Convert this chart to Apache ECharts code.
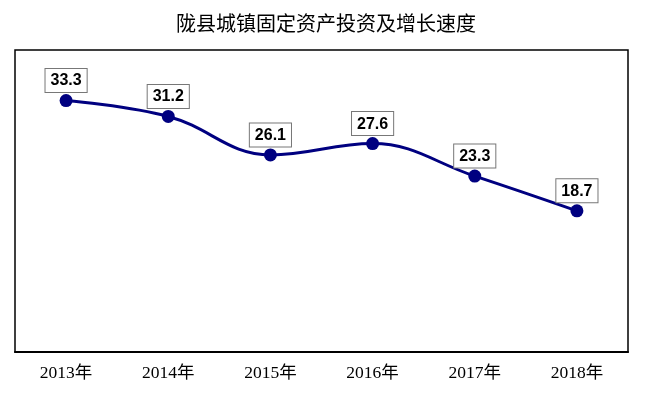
<!DOCTYPE html>
<html><head><meta charset="utf-8">
<script src="https://cdn.jsdelivr.net/npm/echarts@6/dist/echarts.min.js"></script>
<style>html,body{margin:0;padding:0;background:#fff}#c{width:652px;height:396px}</style>
</head><body><div id="c"></div>
<script>
var titleText = '陇县城镇固定资产投资及增长速度';
var categories = ['2013年','2014年','2015年','2016年','2017年','2018年'];
var growth = [33.3, 31.2, 26.1, 27.6, 23.3, 18.7];

var chart = echarts.init(document.getElementById('c'));
chart.setOption({
  animation: false,
  backgroundColor: '#fff',
  title: {
    text: titleText, left: 'center', top: 8,
    textStyle: {fontFamily: '"Noto Sans CJK SC"', fontSize: 20, fontWeight: 'normal', color: '#000'}
  },
  grid: {left: 15, right: 24, top: 50, bottom: 44, show: true, borderColor: '#000', borderWidth: 1.5},
  xAxis: {
    type: 'category', data: categories, boundaryGap: true,
    axisLine: {lineStyle: {color: '#000', width: 2}},
    axisTick: {inside: true, length: 5, lineStyle: {color: '#000'}},
    axisLabel: {margin: 13, fontFamily: '"Liberation Serif", "Noto Sans CJK SC"', fontSize: 17.5, color: '#000'}
  },
  yAxis: {type: 'value', min: 0, max: 40, show: false, splitLine: {show: false}},
  series: [{
    type: 'line', data: growth, smooth: 0.4,
    symbol: 'circle', symbolSize: 13,
    lineStyle: {color: '#000080', width: 3},
    itemStyle: {color: '#000080'},
    label: {
      show: true, position: 'top', distance: 2,
      fontFamily: 'Arial, "Liberation Sans"', fontWeight: 'bold', fontSize: 16, color: '#000',
      backgroundColor: '#fff', borderColor: '#777', borderWidth: 1, padding: [4, 5, 3, 5]
    }
  }]
});
</script></body></html>
